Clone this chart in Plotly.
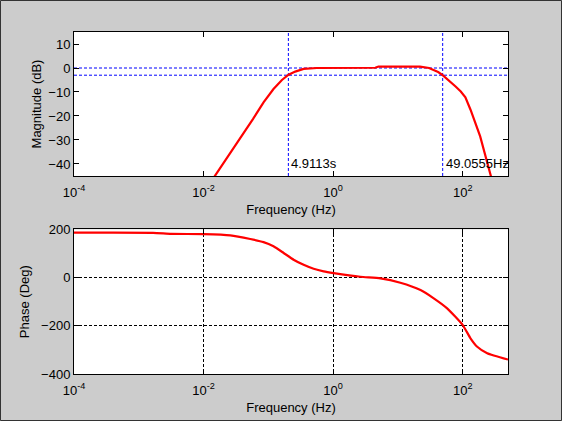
import numpy as np
import plotly.graph_objs as go
from plotly.subplots import make_subplots

# Magnitude response
mag_freq = [0.0141, 0.0200, 0.0355, 0.0578, 0.0843, 0.120, 0.162, 0.205, 0.260, 0.350, 0.560,
            4.47, 5.01, 21.9, 30.2, 34.7, 41.7, 49.0, 61.7, 77.6, 93.3, 110.0, 132.0, 186.0, 275.0]
mag_db = [-46, -40, -30, -21.3, -14.3, -8.75, -5.0, -2.8, -1.5, -0.4, 0.0,
          0.1, 0.6, 0.6, 0.0, -0.7, -1.7, -3.0, -5.2, -7.7, -9.8, -12.2, -17.4, -28.5, -45.5]

# Phase response
phase_freq = [0.0001, 0.00166, 0.00316, 0.0100, 0.0258, 0.0525, 0.0843, 0.120, 0.172, 0.245,
              0.350, 0.500, 0.713, 1.02, 2.63, 5.36, 10.9, 22.3, 35.7, 57.5,
              100.2, 131.8, 167.5, 238.8, 500.0]
phase_deg = [186, 185.5, 181.5, 180, 175, 160, 147, 129.5, 102, 74,
             53, 36.6, 25.8, 18.7, 3.4, -3.2, -21.4, -51.7, -86, -127.6,
             -197, -252, -287, -314, -340]

# Cut-off markers
f_low = 1 / 4.9113
f_high = 49.0555
low_label = '4.9113s'
high_label = '49.0555Hz'

x_ticks = [1e-4, 1e-2, 1e0, 1e2]
x_text = ['10<sup>-4</sup>', '10<sup>-2</sup>', '10<sup>0</sup>', '10<sup>2</sup>']

fig = make_subplots(rows=2, cols=1)

fig.add_trace(go.Scatter(x=mag_freq, y=mag_db, mode='lines',
                         line=dict(color='red', width=2.2)),
              row=1, col=1)
fig.add_trace(go.Scatter(x=phase_freq, y=phase_deg, mode='lines',
                         line=dict(color='red', width=2.2, shape='spline', smoothing=0.5)),
              row=2, col=1)

blue = dict(color='blue', width=1, dash='3px,2px')
for f in [f_low, f_high]:
    fig.add_shape(type='line', xref='x', yref='y domain', x0=f, x1=f,
                  y0=0, y1=1, line=blue, layer='below')
for lvl in [0, -3]:
    fig.add_shape(type='line', xref='x domain', yref='y', x0=0, x1=1, y0=lvl, y1=lvl,
                  line=blue, layer='below')

for f, txt in [(f_low, low_label), (f_high, high_label)]:
    fig.add_annotation(x=np.log10(f), y=-40, xref='x', yref='y', text=txt,
                       showarrow=False, xanchor='left', xshift=2, borderpad=0,
                       font=dict(size=13, color='black'))

# outer frame of the figure window
fig.add_shape(type='rect', xref='paper', yref='paper',
              x0=-73.5 / 434, x1=1 + 53.5 / 434, y0=-46.5 / 342, y1=1 + 31.5 / 342,
              line=dict(color='#333333', width=1))

axis_common = dict(type='log', range=[-4, np.log10(500)], tickvals=x_ticks, ticktext=x_text,
                   showline=True, linecolor='black', linewidth=1, mirror='ticks',
                   ticks='inside', ticklen=5, tickcolor='black', zeroline=False,
                   automargin=False, ticklabelstandoff=4,
                   title=dict(text='Frequency (Hz)', standoff=6, font=dict(size=13)))

fig.update_xaxes(axis_common, showgrid=False, domain=[0, 1], row=1, col=1)
fig.update_xaxes(axis_common, showgrid=True, gridcolor='black', griddash='3px,2px',
                 gridwidth=1, domain=[0, 1], row=2, col=1)

fig.update_yaxes(range=[-45, 15], tickvals=[10, 0, -10, -20, -30, -40], showgrid=False,
                 showline=True, linecolor='black', mirror='ticks', ticks='inside',
                 ticklen=5, tickcolor='black', zeroline=False, domain=[0.579, 1],
                 automargin=False,
                 title=dict(text='Magnitude (dB)', standoff=3, font=dict(size=13)),
                 row=1, col=1)
fig.update_yaxes(range=[-400, 200], tickvals=[200, 0, -200, -400], showgrid=True,
                 gridcolor='black', griddash='3px,2px', gridwidth=1,
                 showline=True, linecolor='black', mirror='ticks', ticks='inside',
                 ticklen=5, tickcolor='black', zeroline=False, domain=[0, 0.423],
                 automargin=False,
                 title=dict(text='Phase (Deg)', standoff=8, font=dict(size=13)),
                 row=2, col=1)

fig.update_layout(
    width=562, height=421,
    margin=dict(l=74, r=54, t=32, b=47),
    paper_bgcolor='#CCCCCC', plot_bgcolor='white',
    font=dict(family='Liberation Sans, Arial, sans-serif', size=13, color='black'),
    showlegend=False,
)

fig.write_html('out.html', config={'displayModeBar': False},
               post_script="document.body.style.margin='0px';")
